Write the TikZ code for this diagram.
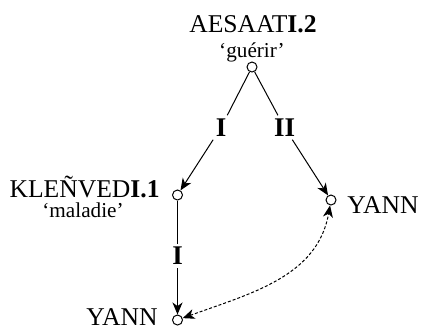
\documentclass[tikz,border=0pt]{standalone}
\usepackage{fontspec}
\setmainfont{Liberation Serif}
\usetikzlibrary{arrows.meta,positioning}
\definecolor{ink}{HTML}{000000}
\tikzset{
  pt/.style={circle,draw=ink,line width=.5bp,fill=white,minimum size=5bp,inner sep=0pt},
  lex/.style={font=\fontsize{12.8bp}{15bp}\selectfont,text=ink,inner sep=0pt},
  gloss/.style={font=\fontsize{10.6bp}{12bp}\selectfont,text=ink,inner sep=0pt},
  lab/.style={font=\fontsize{13.5bp}{15bp}\selectfont\bfseries,text=ink,inner sep=1.5bp},
  ln/.style={draw=ink,line width=.5bp},
  ar/.style={ln,-{Stealth[length=6bp,width=5bp,inset=1.8bp]}},
  ard/.style={ln,dash pattern=on 1.5bp off 1bp,{Stealth[length=6bp,width=5bp,inset=1.8bp]}-{Stealth[length=6bp,width=5bp,inset=1.8bp]}},
}
\begin{document}
\begin{tikzpicture}[x=.5bp,y=.5bp]
\useasboundingbox (0,0) rectangle (424,329);
% points
\node[pt] (aes) at (252,262) {};
\node[pt] (kle) at (177.5,134) {};
\node[pt] (yr) at (331,129) {};
\node[pt] (yb) at (177.5,9) {};
% words and glosses
\node[lex,anchor=base] (aesw) at (253,297) {AESAAT\textbf{I.2}};
\node[gloss,anchor=base] (aesg) at (252,272) {‘guérir’};
\node[lex,anchor=base east] (klew) at (160,132) {KLEÑVED\textbf{I.1}};
\node[gloss,anchor=base] (kleg) at (83,112) {‘maladie’};
\node[lex,anchor=base west] (yrw) at (347,116) {YANN};
\node[lex,anchor=base east] (ybw) at (158,4) {YANN};
% branch labels
\node[lab] (l1) at (221,201.5) {I};
\node[lab] (l2) at (284.5,201.5) {II};
\node[lab] (l3) at (177.5,73) {I};
% branches
\draw[ln] (aes) -- (l1);
\draw[ar] (l1) -- (kle);
\draw[ln] (aes) -- (l2);
\draw[ar] (l2) -- (yr);
\draw[ln] (kle) -- (l3);
\draw[ar] (l3) -- (yb);
\draw[ard] (yb) to[out=20,in=-100] (yr);
\end{tikzpicture}
\end{document}
